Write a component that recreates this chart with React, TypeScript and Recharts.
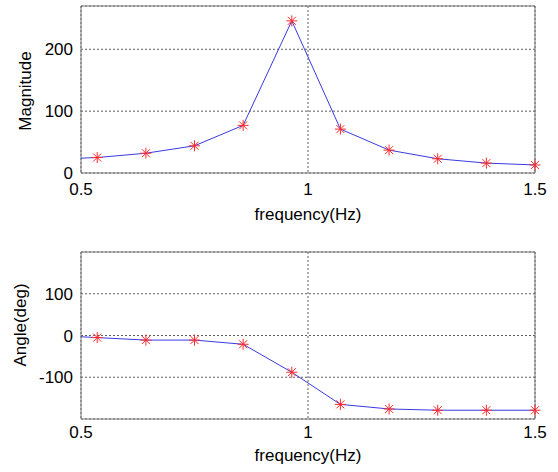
import React from "react";
import { LineChart, Line, XAxis, YAxis, CartesianGrid, ReferenceArea } from "recharts";

// sampled frequencies (Hz)
const freqs = [0.5357, 0.6429, 0.75, 0.8571, 0.9643, 1.0714, 1.1786, 1.2857, 1.3929, 1.5];
const magnitude = [25, 32, 44, 77, 246, 71, 37, 23, 16, 13];
const angle = [-5, -11, -11, -21, -88, -165, -176, -179, -179, -179];
// where the trace meets the left edge of the box
const edgeFreq = 0.5;
const edgeMagnitude = 24;
const edgeAngle = -3;

const xTicks = [0.5, 1, 1.5];
const magTicks = [0, 100, 200];
const angTicks = [-100, 0, 100];

const rows = [
  { f: edgeFreq, mag: edgeMagnitude, ang: edgeAngle, sample: false },
  ...freqs.map((f, i) => ({ f, mag: magnitude[i], ang: angle[i], sample: true })),
];

const FONT = "'Liberation Sans', Arial, Helvetica, sans-serif";
const W = 558;
const H = 236;

const Star = (props: any) => {
  const { cx, cy, payload, index } = props;
  if (cx == null || cy == null || !payload?.sample) return <g key={index} />;
  const r = 5.5;
  const d = 4;
  return (
    <g key={index} stroke="#ff2a2a" strokeWidth={1}>
      <line x1={cx - r} y1={cy} x2={cx + r} y2={cy} />
      <line x1={cx} y1={cy - r} x2={cx} y2={cy + r} />
      <line x1={cx - d} y1={cy - d} x2={cx + d} y2={cy + d} />
      <line x1={cx - d} y1={cy + d} x2={cx + d} y2={cy - d} />
    </g>
  );
};

const fmtX = (v: number) => (v === 1 ? "1" : String(v));

function Panel({ dataKey, yDomain, yTicks, yLabel, yLabelX, yLabelY, top, xTickMargin, xLabelDy }: any) {
  return (
    <LineChart
      width={W}
      height={H}
      data={rows}
      margin={{ top, right: 23, bottom: 0, left: 0 }}
      style={{ fontFamily: FONT }}
    >
      <CartesianGrid stroke="#333" strokeDasharray="2 2" strokeWidth={0.8} />
      <XAxis
        dataKey="f"
        type="number"
        domain={[0.5, 1.5]}
        ticks={xTicks}
        tickFormatter={fmtX}
        height={63 - (top - 6)}
        tickLine={false}
        tickSize={0}
        tickMargin={xTickMargin}
        axisLine={false}
        tick={{ fontSize: 17, fill: "#000", fontFamily: FONT }}
        label={{
          content: (p: any) => {
            const vb = p.viewBox;
            return (
              <text
                x={vb.x + vb.width / 2}
                y={vb.y + xLabelDy}
                textAnchor="middle"
                dominantBaseline="central"
                fontSize={17}
                fontFamily={FONT}
                fill="#000"
              >
                frequency(Hz)
              </text>
            );
          },
        }}
      />
      <YAxis
        dataKey={dataKey}
        type="number"
        domain={yDomain}
        ticks={yTicks}
        width={81}
        tickLine={false}
        tickSize={0}
        tickMargin={8}
        axisLine={false}
        tick={{ fontSize: 17, fill: "#000", fontFamily: FONT }}
        label={{
          content: () => (
            <text
              x={yLabelX}
              y={yLabelY}
              transform={`rotate(-90 ${yLabelX} ${yLabelY})`}
              textAnchor="middle"
              dominantBaseline="central"
              fontSize={17}
              fontFamily={FONT}
              fill="#000"
            >
              {yLabel}
            </text>
          ),
        }}
      />
      <ReferenceArea
        x1={0.5}
        x2={1.5}
        y1={yDomain[0]}
        y2={yDomain[1]}
        fill="none"
        fillOpacity={0}
        stroke="#777"
        strokeWidth={1}
      />
      <Line
        dataKey={dataKey}
        stroke="#3a3ae0"
        strokeWidth={1}
        dot={Star}
        activeDot={false}
        isAnimationActive={false}
      />
    </LineChart>
  );
}

export default function App() {
  return (
    <div style={{ position: "absolute", left: 0, top: 0, width: W, height: 472, background: "#fff" }}>
      <Panel
        dataKey="mag"
        yDomain={[0, 270]}
        yTicks={magTicks}
        yLabel="Magnitude"
        yLabelX={25}
        yLabelY={91}
        top={6}
        xTickMargin={10}
        xLabelDy={41}
      />
      <Panel
        dataKey="ang"
        yDomain={[-200, 200]}
        yTicks={angTicks}
        yLabel="Angle(deg)"
        yLabelX={20}
        yLabelY={325 - H}
        top={16}
        xTickMargin={7}
        xLabelDy={36.5}
      />
    </div>
  );
}
